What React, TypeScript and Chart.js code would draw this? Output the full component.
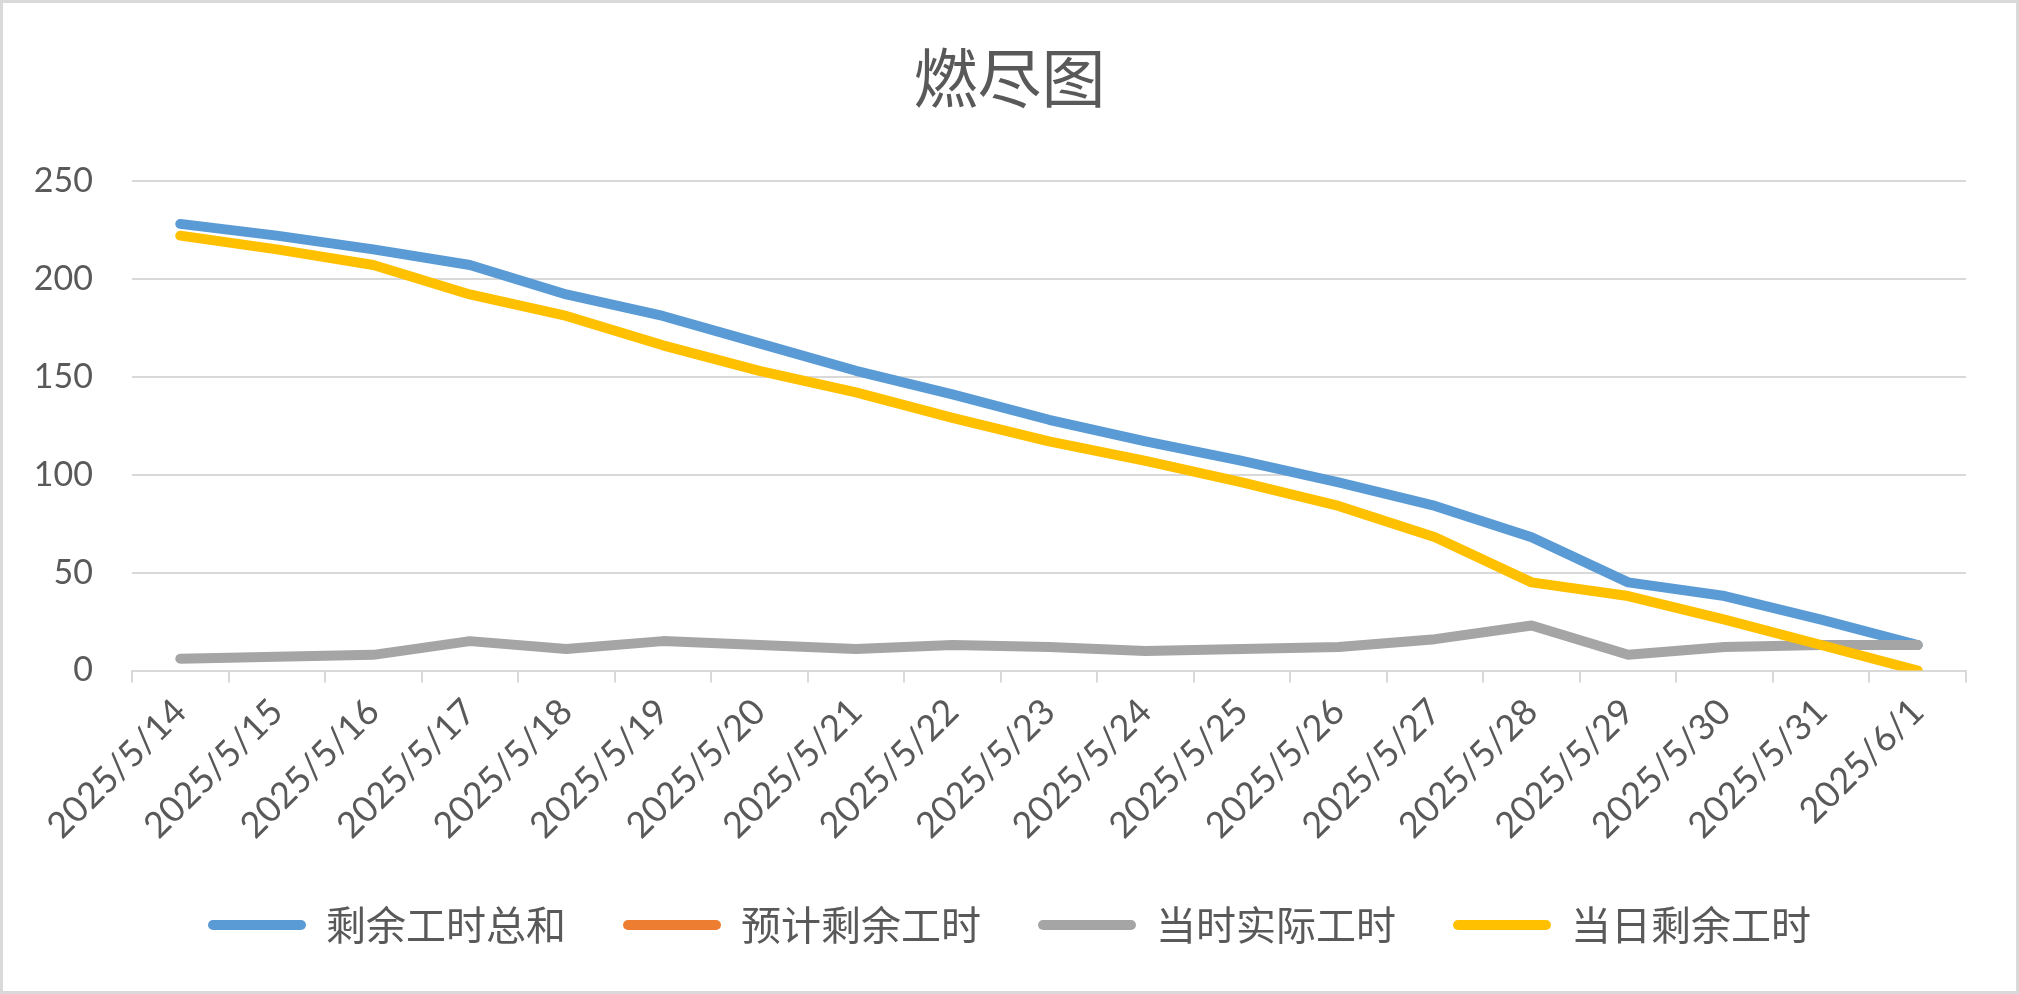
import React, { useEffect, useRef } from "react";
import { Chart, registerables } from "chart.js";

Chart.register(...registerables);

const dates = [
  "2025/5/14", "2025/5/15", "2025/5/16", "2025/5/17", "2025/5/18",
  "2025/5/19", "2025/5/20", "2025/5/21", "2025/5/22", "2025/5/23",
  "2025/5/24", "2025/5/25", "2025/5/26", "2025/5/27", "2025/5/28",
  "2025/5/29", "2025/5/30", "2025/5/31", "2025/6/1",
];
const totalRemaining = [228, 222, 215, 207, 192, 181, 167, 153, 141, 128, 117, 107, 96, 84, 68, 45, 38, 26, 13];
const expectedRemaining: (number | null)[] = [
  null, null, null, null, null, null, null, null, null, null,
  null, null, null, null, null, null, null, null, null,
];
const actualHours = [6, 7, 8, 15, 11, 15, 13, 11, 13, 12, 10, 11, 12, 16, 23, 8, 12, 13, 13];
const dailyRemaining = [222, 215, 207, 192, 181, 166, 153, 142, 129, 117, 107, 96, 84, 68, 45, 38, 26, 13, 0];
const seriesNames = ["剩余工时总和", "预计剩余工时", "当时实际工时", "当日剩余工时"];
const seriesColors = ["#5B9BD5", "#ED7D31", "#A5A5A5", "#FFC000"];
const yTicks = [0, 50, 100, 150, 200, 250];
const chartTitle = "燃尽图";

const W = 2019;
const H = 994;
const TEXT = "#595959";
const GRID = "#D9D9D9";
const CJK = "'Noto Sans CJK SC', 'Noto Sans', sans-serif";
const NUM = "Lato, 'Noto Sans CJK SC', sans-serif";

const frame = {
  id: "frame",
  afterDraw(chart: any) {
    const ctx = chart.ctx;
    ctx.save();
    ctx.strokeStyle = GRID;
    ctx.lineWidth = 3;
    ctx.strokeRect(1.5, 1.5, chart.width - 3, chart.height - 3);
    ctx.restore();
  },
};

export default function App() {
  const ref = useRef<HTMLCanvasElement | null>(null);
  useEffect(() => {
    if (!ref.current) return;
    const all = [totalRemaining, expectedRemaining, actualHours, dailyRemaining];
    const orders = [4, 3, 2, 1];
    const chart = new Chart(ref.current, {
      type: "line",
      data: {
        labels: dates,
        datasets: all.map((d, i) => ({
          label: seriesNames[i],
          data: d,
          yAxisID: "y",
          borderColor: seriesColors[i],
          backgroundColor: seriesColors[i],
          borderWidth: 10,
          pointRadius: 0,
          pointHoverRadius: 0,
          tension: 0,
          borderCapStyle: "round",
          borderJoinStyle: "round",
          order: orders[i],
        })),
      },
      options: {
        animation: false,
        responsive: true,
        maintainAspectRatio: false,
        devicePixelRatio: 1,
        layout: { padding: { top: 0, right: 0, bottom: 39, left: 0 } },
        plugins: {
          tooltip: { enabled: false },
          title: {
            display: true,
            text: chartTitle,
            color: TEXT,
            font: { family: CJK, size: 64, weight: "normal" },
            padding: { top: 39, bottom: 65 },
          },
          legend: {
            position: "bottom",
            labels: {
              color: TEXT,
              font: { family: CJK, size: 40 },
              boxWidth: 98,
              boxHeight: 10,
              padding: 57,
              useBorderRadius: true,
              borderRadius: 5,
              sort: (a: any, b: any) => a.datasetIndex - b.datasetIndex,
              generateLabels: (c: any) =>
                Chart.defaults.plugins.legend.labels.generateLabels(c).map((it: any) => ({
                  ...it,
                  fillStyle: seriesColors[it.datasetIndex],
                  strokeStyle: seriesColors[it.datasetIndex],
                  lineWidth: 0,
                  hidden: false,
                })),
            },
          },
        },
        scales: {
          x: {
            type: "category",
            offset: true,
            grid: {
              offset: true,
              drawOnChartArea: false,
              drawTicks: true,
              tickLength: 12,
              color: GRID,
              lineWidth: 2,
            },
            border: { display: true, color: GRID, width: 2 },
            ticks: {
              autoSkip: false,
              minRotation: 45,
              maxRotation: 45,
              color: TEXT,
              font: { family: NUM, size: 36 },
              padding: 8,
            },
            afterFit: (s: any) => {
              s.height = 177.5;
            },
          },
          y: {
            position: "left",
            min: 0,
            max: 250,
            grid: { color: GRID, lineWidth: 2, drawTicks: false },
            border: { display: false },
            ticks: {
              color: TEXT,
              font: { family: NUM, size: 34 },
              padding: 39,
              stepSize: 50,
            },
            afterBuildTicks: (s: any) => {
              s.ticks = yTicks.map((v) => ({ value: v }));
            },
            afterFit: (s: any) => {
              s.width = 132;
            },
          },
          yRight: {
            position: "right",
            display: true,
            grid: { display: false, drawTicks: false },
            border: { display: false },
            ticks: { display: false },
            afterFit: (s: any) => {
              s.width = 53;
            },
          },
        },
      },
      plugins: [frame],
    } as any);
    return () => chart.destroy();
  }, []);

  return (
    <div
      style={{
        position: "fixed",
        left: 0,
        top: 0,
        width: W,
        height: H,
        background: "#fff",
      }}
    >
      <canvas ref={ref} />
    </div>
  );
}
